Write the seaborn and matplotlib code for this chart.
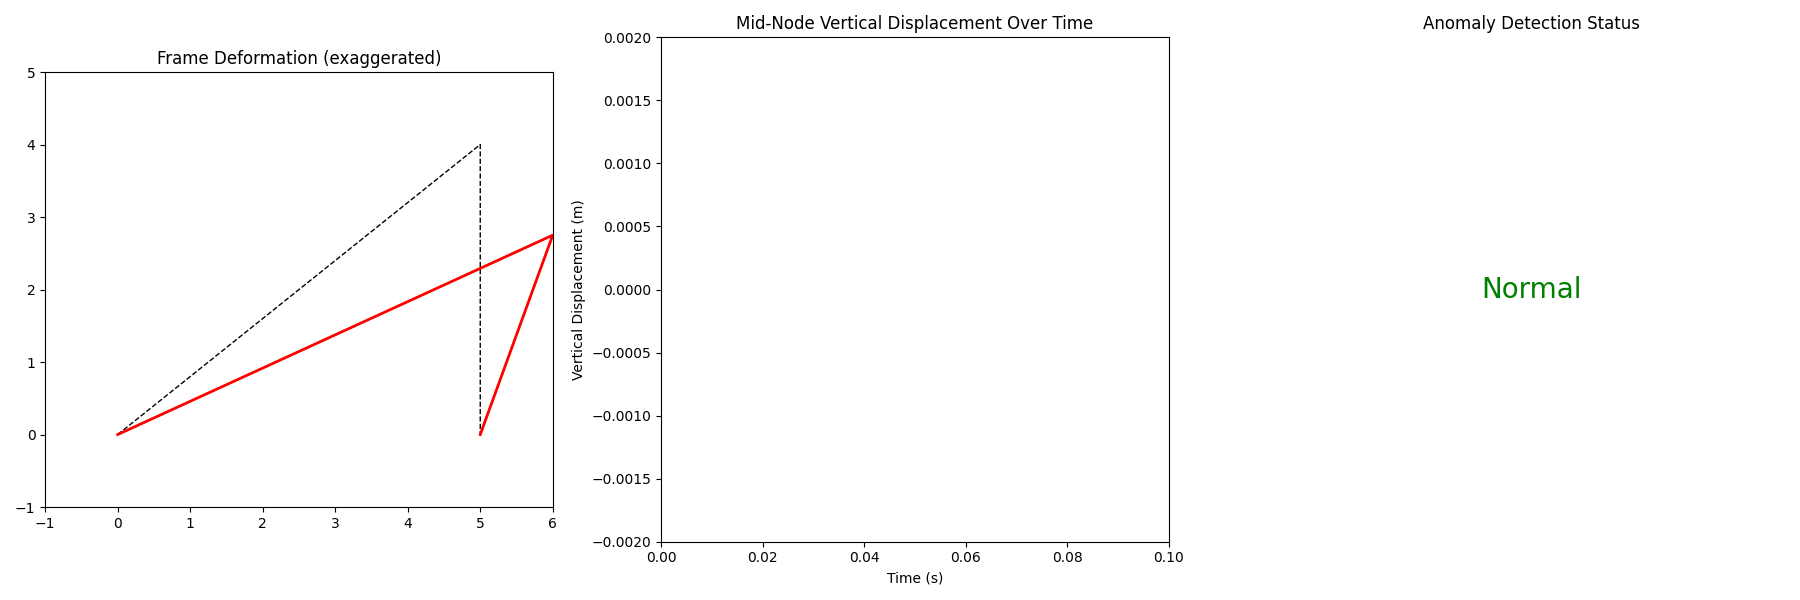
import matplotlib
matplotlib.use("Agg")
import matplotlib.pyplot as plt
import seaborn as sns

# undeformed frame nodes
orig_x = [0, 5, 5]
orig_y = [0, 4, 0]
# deformed frame nodes (exaggerated)
def_x = [0, 6, 5]
def_y = [0, 2.75, 0]

# mid-node displacement history (empty so far)
time_s = []
disp_m = []

status = "Normal"

fig, axes = plt.subplots(1, 3, figsize=(18, 6))

ax = axes[0]
sns.lineplot(x=orig_x, y=orig_y, sort=False, estimator=None, ax=ax,
             color="black", linestyle="--", linewidth=1)
sns.lineplot(x=def_x, y=def_y, sort=False, estimator=None, ax=ax,
             color="red", linewidth=2)
ax.set_xlim(-1, 6)
ax.set_ylim(-1, 5)
ax.set_aspect("equal")
ax.set_title("Frame Deformation (exaggerated)")

ax = axes[1]
ax.plot(time_s, disp_m)
ax.set_xlim(0, 0.1)
ax.set_ylim(-0.002, 0.002)
ax.set_title("Mid-Node Vertical Displacement Over Time")
ax.set_xlabel("Time (s)")
ax.set_ylabel("Vertical Displacement (m)")

ax = axes[2]
ax.axis("off")
ax.set_title("Anomaly Detection Status")
ax.text(0.5, 0.5, status, fontsize=20, color="green",
        ha="center", va="center", transform=ax.transAxes)

plt.tight_layout()
plt.savefig("out.png", dpi=100)
